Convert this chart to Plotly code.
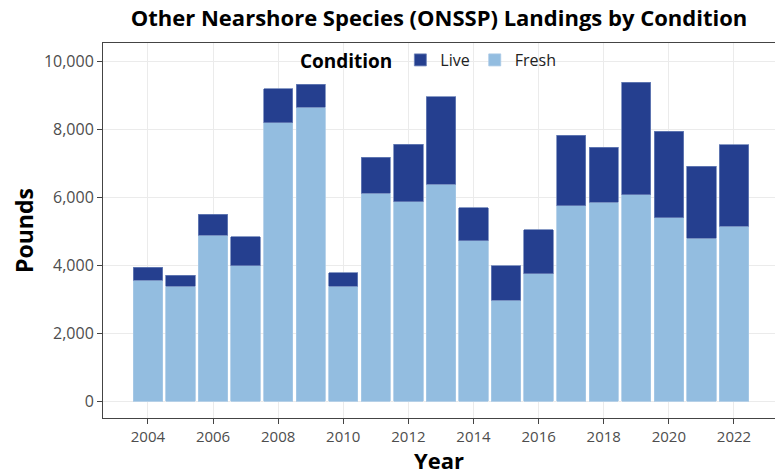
import plotly.graph_objects as go

years = list(range(2004, 2023))
fresh = [3550, 3370, 4880, 3980, 8190, 8640, 3370, 6110, 5860, 6370,
         4720, 2960, 3740, 5740, 5845, 6060, 5390, 4790, 5140]
total = [3930, 3700, 5490, 4830, 9190, 9320, 3770, 7170, 7550, 8950,
         5690, 3980, 5030, 7810, 7470, 9380, 7940, 6900, 7530]
live = [t - f for t, f in zip(total, fresh)]

FRESH_COL = "#93BDE0"
LIVE_COL = "#253F8F"

fig = go.Figure()
fig.add_trace(go.Bar(x=years, y=fresh, name="Fresh", width=0.9,
                     marker=dict(color=FRESH_COL, line=dict(color="#A9C9E6", width=0.8))))
fig.add_trace(go.Bar(x=years, y=live, name="Live", width=0.9,
                     marker=dict(color=LIVE_COL, line=dict(color="#6C82B8", width=0.8))))

fig.update_layout(
    barmode="stack",
    width=775, height=475,
    margin=dict(l=103, r=0, t=43, b=57, autoexpand=False),
    paper_bgcolor="white", plot_bgcolor="white",
    font=dict(family="Open Sans", color="#4D4D4D"),
    title=dict(text="<b>Other Nearshore Species (ONSSP) Landings by Condition</b>",
               x=0.5, xref="paper", xanchor="center", y=0.962, yanchor="middle",
               font=dict(size=22, color="black")),
    legend=dict(orientation="h", x=0.29, xanchor="left", y=1.0, yanchor="top",
                traceorder="reversed", bgcolor="rgba(0,0,0,0)",
                title=dict(text="<b>Condition</b>", side="left",
                           font=dict(size=19, color="black")),
                font=dict(size=16, color="#222"), itemwidth=30,
                tracegroupgap=0),
    bargap=0.1,
)

fig.update_xaxes(range=[2002.62, 2023.26], tickvals=list(range(2004, 2023, 2)),
                 automargin=False,
                 showgrid=True, gridcolor="#EBEBEB", gridwidth=1.2,
                 showline=True, mirror=True, linecolor="#444", linewidth=1,
                 ticks="outside", ticklen=5, tickcolor="#444",
                 tickfont=dict(size=15, color="#4D4D4D"), zeroline=False,
                 title=dict(text="<b>Year</b>", font=dict(size=22, color="black"), standoff=4))
fig.update_yaxes(range=[-500, 10530], tickvals=[0, 2000, 4000, 6000, 8000, 10000],
                 tickformat=",d", automargin=False,
                 showgrid=True, gridcolor="#EBEBEB", gridwidth=1.2,
                 showline=True, mirror=False, linecolor="#444", linewidth=1,
                 ticks="outside", ticklen=5, tickcolor="#444",
                 tickfont=dict(size=16, color="#4D4D4D"), zeroline=False,
                 title=dict(text="<b>Pounds</b>", font=dict(size=23, color="black"), standoff=3))

# drop the default page margin so the 775x475 figure fills the window
fig.write_html("out.html", config={"displayModeBar": False},
               post_script="document.body.style.margin='0';")
